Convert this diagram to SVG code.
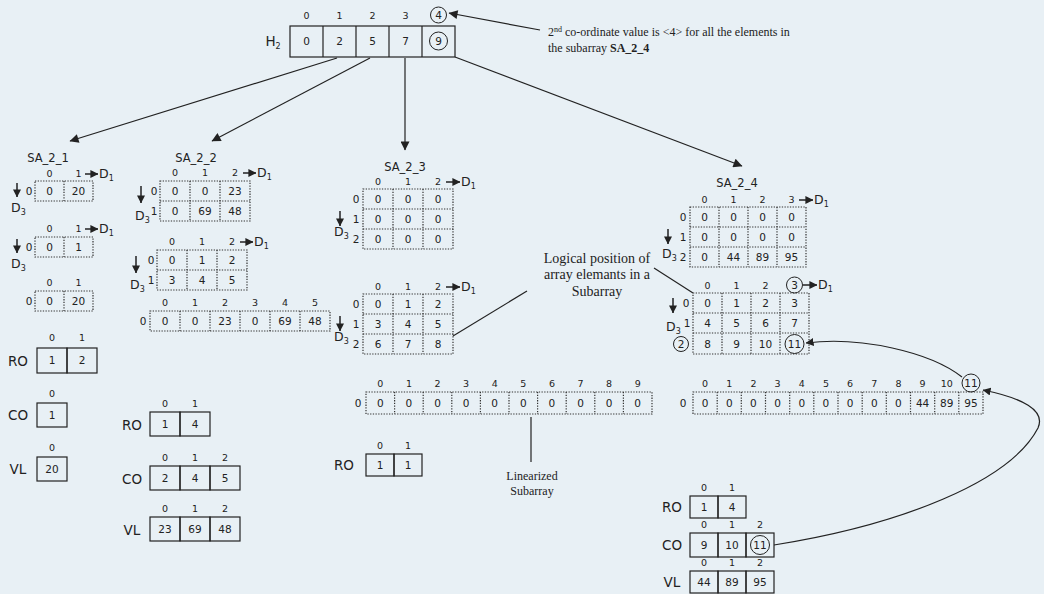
<svg xmlns="http://www.w3.org/2000/svg" width="1044" height="594" viewBox="0 0 1044 594">
<defs>
<marker id="a" viewBox="0 0 10 10" refX="9.5" refY="5" markerWidth="11" markerHeight="9" orient="auto" markerUnits="userSpaceOnUse"><path d="M0,0 L10,5 L0,10 z" fill="#222"/></marker>
<marker id="s" viewBox="0 0 10 10" refX="9.5" refY="5" markerWidth="8" markerHeight="8" orient="auto" markerUnits="userSpaceOnUse"><path d="M0,0 L10,5 L0,10 z" fill="#222"/></marker>
<style>
.v{font-family:"DejaVu Sans",sans-serif;font-size:10.5px;fill:#222;text-anchor:middle}
.i{font-family:"DejaVu Sans",sans-serif;font-size:9.5px;fill:#222;text-anchor:middle}
.lb{font-family:"DejaVu Sans",sans-serif;font-size:11.5px;fill:#222;text-anchor:middle}
.big{font-family:"DejaVu Sans",sans-serif;font-size:13.5px;fill:#222;text-anchor:middle}
.dl{font-family:"DejaVu Sans",sans-serif;font-size:12.5px;fill:#222}
.sub{font-size:8px}
.s{font-family:"Liberation Serif",serif;font-size:12px;fill:#222}
.sl{font-family:"Liberation Serif",serif;font-size:14px;fill:#222;text-anchor:middle}
.d{fill:none;stroke:#333;stroke-width:1.2;stroke-dasharray:1.3 1.4}
.b{fill:none;stroke:#222;stroke-width:1.2}
.c{fill:none;stroke:#222;stroke-width:1}
.ln{stroke:#222;stroke-width:1.2;fill:none}
.sa{stroke:#222;stroke-width:1.5;fill:none}
</style>
</defs>
<rect width="1044" height="594" fill="#e8f0f5"/>

<g id="H2">
<text class="i" x="306.5" y="19">0</text><text class="i" x="339.5" y="19">1</text><text class="i" x="372.5" y="19">2</text><text class="i" x="405.5" y="19">3</text><text class="v" x="438.5" y="19">4</text>
<circle class="c" cx="438.5" cy="15" r="8"/>
<text class="big" x="273" y="46">H<tspan class="sub" dy="3">2</tspan></text>
<rect class="b" x="290" y="26" width="165" height="31"/>
<line class="ln" x1="323" y1="26" x2="323" y2="57"/><line class="ln" x1="356" y1="26" x2="356" y2="57"/><line class="ln" x1="389" y1="26" x2="389" y2="57"/><line class="ln" x1="422" y1="26" x2="422" y2="57"/>
<text class="v" x="306.5" y="45">0</text><text class="v" x="339.5" y="45">2</text><text class="v" x="372.5" y="45">5</text><text class="v" x="405.5" y="45">7</text><text class="v" x="438.5" y="45">9</text>
<circle class="c" cx="438.5" cy="41" r="9"/>
</g>

<g id="note">
<text class="s" x="548" y="36">2<tspan font-size="8" dy="-4">nd</tspan><tspan dy="4"> co-ordinate value is &lt;4&gt; for all the elements in</tspan></text>
<text class="s" x="548" y="52">the subarray <tspan font-weight="bold">SA_2_4</tspan></text>
</g>

<g id="connectors">
<line class="ln" x1="540" y1="30" x2="449" y2="13" marker-end="url(#a)"/>
<line class="ln" x1="337" y1="58" x2="70" y2="141" marker-end="url(#a)"/>
<line class="ln" x1="370" y1="58" x2="212" y2="141" marker-end="url(#a)"/>
<line class="ln" x1="405" y1="58" x2="405" y2="150" marker-end="url(#a)"/>
<line class="ln" x1="455" y1="57" x2="742" y2="166" marker-end="url(#a)"/>
<line class="ln" x1="527" y1="291" x2="453" y2="336"/>
<line class="ln" x1="654" y1="268" x2="693" y2="293"/>
<line class="ln" x1="531" y1="417" x2="531" y2="462"/>
<path class="ln" d="M962,377 C930,352 860,336 806,343" marker-end="url(#s)"/>
<path class="ln" d="M774,545 C900,525 1010,482 1038,428 C1046,410 1022,398 983,390" marker-end="url(#s)"/>
</g>

<g id="SA_2_1">
<text class="lb" x="48" y="162">SA_2_1</text>
<text class="i" x="49.5" y="177">0</text><text class="i" x="78.5" y="177">1</text>
<line class="sa" x1="85" y1="174" x2="98" y2="174" marker-end="url(#s)"/><text class="dl" x="99" y="178">D<tspan class="sub" dy="3">1</tspan></text>
<rect class="d" x="35" y="181" width="58" height="20"/><line class="d" x1="64" y1="181" x2="64" y2="201"/>
<text class="v" x="49.5" y="195">0</text><text class="v" x="78.5" y="195">20</text>
<text class="v" x="29" y="195">0</text>
<line class="sa" x1="17" y1="183" x2="17" y2="197" marker-end="url(#s)"/><text class="dl" x="11" y="212">D<tspan class="sub" dy="3">3</tspan></text>

<text class="i" x="49.5" y="232">0</text><text class="i" x="78.5" y="232">1</text>
<line class="sa" x1="85" y1="229" x2="98" y2="229" marker-end="url(#s)"/><text class="dl" x="99" y="233">D<tspan class="sub" dy="3">1</tspan></text>
<rect class="d" x="35" y="237" width="58" height="20"/><line class="d" x1="64" y1="237" x2="64" y2="257"/>
<text class="v" x="49.5" y="251">0</text><text class="v" x="78.5" y="251">1</text>
<text class="v" x="29" y="251">0</text>
<line class="sa" x1="17" y1="239" x2="17" y2="253" marker-end="url(#s)"/><text class="dl" x="11" y="268">D<tspan class="sub" dy="3">3</tspan></text>

<text class="i" x="49.5" y="286">0</text><text class="i" x="78.5" y="286">1</text>
<rect class="d" x="35" y="291" width="58" height="20"/><line class="d" x1="64" y1="291" x2="64" y2="311"/>
<text class="v" x="49.5" y="305">0</text><text class="v" x="78.5" y="305">20</text>
<text class="v" x="29" y="305">0</text>

<text class="i" x="52" y="341">0</text><text class="i" x="82" y="341">1</text>
<rect class="b" x="37" y="348" width="30" height="25"/><rect class="b" x="67" y="348" width="30" height="25"/>
<text class="v" x="52" y="364">1</text><text class="v" x="82" y="364">2</text>
<text class="big" x="18" y="366">RO</text>
<text class="i" x="52" y="397">0</text>
<rect class="b" x="37" y="403" width="30" height="24"/><text class="v" x="52" y="419">1</text>
<text class="big" x="18" y="420">CO</text>
<text class="i" x="52" y="451">0</text>
<rect class="b" x="37" y="457" width="30" height="24"/><text class="v" x="52" y="473">20</text>
<text class="big" x="18" y="474">VL</text>
</g>

<g id="SA_2_2">
<text class="lb" x="196" y="162">SA_2_2</text>
<text class="i" x="175" y="176">0</text><text class="i" x="205" y="176">1</text><text class="i" x="235" y="176">2</text>
<line class="sa" x1="243" y1="173" x2="256" y2="173" marker-end="url(#s)"/><text class="dl" x="257" y="177">D<tspan class="sub" dy="3">1</tspan></text>
<rect class="d" x="160" y="181" width="90" height="40"/><line class="d" x1="190" y1="181" x2="190" y2="221"/><line class="d" x1="220" y1="181" x2="220" y2="221"/><line class="d" x1="160" y1="201" x2="250" y2="201"/>
<text class="v" x="175" y="195">0</text><text class="v" x="205" y="195">0</text><text class="v" x="235" y="195">23</text>
<text class="v" x="175" y="215">0</text><text class="v" x="205" y="215">69</text><text class="v" x="235" y="215">48</text>
<text class="v" x="154" y="195">0</text><text class="v" x="154" y="215">1</text>
<line class="sa" x1="141" y1="186" x2="141" y2="203" marker-end="url(#s)"/><text class="dl" x="135" y="220">D<tspan class="sub" dy="3">3</tspan></text>

<text class="i" x="172" y="245">0</text><text class="i" x="202" y="245">1</text><text class="i" x="232" y="245">2</text>
<line class="sa" x1="240" y1="242" x2="253" y2="242" marker-end="url(#s)"/><text class="dl" x="254" y="246">D<tspan class="sub" dy="3">1</tspan></text>
<rect class="d" x="157" y="250" width="90" height="40"/><line class="d" x1="187" y1="250" x2="187" y2="290"/><line class="d" x1="217" y1="250" x2="217" y2="290"/><line class="d" x1="157" y1="270" x2="247" y2="270"/>
<text class="v" x="172" y="264">0</text><text class="v" x="202" y="264">1</text><text class="v" x="232" y="264">2</text>
<text class="v" x="172" y="284">3</text><text class="v" x="202" y="284">4</text><text class="v" x="232" y="284">5</text>
<text class="v" x="151" y="264">0</text><text class="v" x="151" y="284">1</text>
<line class="sa" x1="136" y1="256" x2="136" y2="273" marker-end="url(#s)"/><text class="dl" x="130" y="289">D<tspan class="sub" dy="3">3</tspan></text>

<text class="i" x="165" y="306">0</text><text class="i" x="195" y="306">1</text><text class="i" x="225" y="306">2</text><text class="i" x="255" y="306">3</text><text class="i" x="285" y="306">4</text><text class="i" x="315" y="306">5</text>
<rect class="d" x="150" y="311" width="180" height="20"/>
<line class="d" x1="180" y1="311" x2="180" y2="331"/><line class="d" x1="210" y1="311" x2="210" y2="331"/><line class="d" x1="240" y1="311" x2="240" y2="331"/><line class="d" x1="270" y1="311" x2="270" y2="331"/><line class="d" x1="300" y1="311" x2="300" y2="331"/>
<text class="v" x="165" y="325">0</text><text class="v" x="195" y="325">0</text><text class="v" x="225" y="325">23</text><text class="v" x="255" y="325">0</text><text class="v" x="285" y="325">69</text><text class="v" x="315" y="325">48</text>
<text class="v" x="143" y="325">0</text>

<text class="i" x="165" y="407">0</text><text class="i" x="195" y="407">1</text>
<rect class="b" x="150" y="412" width="30" height="24"/><rect class="b" x="180" y="412" width="30" height="24"/>
<text class="v" x="165" y="428">1</text><text class="v" x="195" y="428">4</text>
<text class="big" x="132" y="430">RO</text>
<text class="i" x="165" y="461">0</text><text class="i" x="195" y="461">1</text><text class="i" x="225" y="461">2</text>
<rect class="b" x="150" y="466" width="30" height="24"/><rect class="b" x="180" y="466" width="30" height="24"/><rect class="b" x="210" y="466" width="30" height="24"/>
<text class="v" x="165" y="482">2</text><text class="v" x="195" y="482">4</text><text class="v" x="225" y="482">5</text>
<text class="big" x="132" y="484">CO</text>
<text class="i" x="165" y="512">0</text><text class="i" x="195" y="512">1</text><text class="i" x="225" y="512">2</text>
<rect class="b" x="150" y="517" width="30" height="24"/><rect class="b" x="180" y="517" width="30" height="24"/><rect class="b" x="210" y="517" width="30" height="24"/>
<text class="v" x="165" y="533">23</text><text class="v" x="195" y="533">69</text><text class="v" x="225" y="533">48</text>
<text class="big" x="132" y="535">VL</text>
</g>

<g id="SA_2_3">
<text class="lb" x="405" y="171">SA_2_3</text>
<text class="i" x="378" y="185">0</text><text class="i" x="408" y="185">1</text><text class="i" x="438" y="185">2</text>
<line class="sa" x1="446" y1="182" x2="460" y2="182" marker-end="url(#s)"/><text class="dl" x="461" y="186">D<tspan class="sub" dy="3">1</tspan></text>
<rect class="d" x="363" y="189" width="90" height="60"/><line class="d" x1="393" y1="189" x2="393" y2="249"/><line class="d" x1="423" y1="189" x2="423" y2="249"/><line class="d" x1="363" y1="209" x2="453" y2="209"/><line class="d" x1="363" y1="229" x2="453" y2="229"/>
<text class="v" x="378" y="203">0</text><text class="v" x="408" y="203">0</text><text class="v" x="438" y="203">0</text>
<text class="v" x="378" y="223">0</text><text class="v" x="408" y="223">0</text><text class="v" x="438" y="223">0</text>
<text class="v" x="378" y="243">0</text><text class="v" x="408" y="243">0</text><text class="v" x="438" y="243">0</text>
<text class="v" x="356" y="203">0</text><text class="v" x="356" y="223">1</text><text class="v" x="356" y="243">2</text>
<line class="sa" x1="340" y1="211" x2="340" y2="226" marker-end="url(#s)"/><text class="dl" x="334" y="236">D<tspan class="sub" dy="3">3</tspan></text>

<text class="i" x="378" y="290">0</text><text class="i" x="408" y="290">1</text><text class="i" x="438" y="290">2</text>
<line class="sa" x1="446" y1="287" x2="460" y2="287" marker-end="url(#s)"/><text class="dl" x="461" y="291">D<tspan class="sub" dy="3">1</tspan></text>
<rect class="d" x="363" y="294" width="90" height="60"/><line class="d" x1="393" y1="294" x2="393" y2="354"/><line class="d" x1="423" y1="294" x2="423" y2="354"/><line class="d" x1="363" y1="314" x2="453" y2="314"/><line class="d" x1="363" y1="334" x2="453" y2="334"/>
<text class="v" x="378" y="308">0</text><text class="v" x="408" y="308">1</text><text class="v" x="438" y="308">2</text>
<text class="v" x="378" y="328">3</text><text class="v" x="408" y="328">4</text><text class="v" x="438" y="328">5</text>
<text class="v" x="378" y="348">6</text><text class="v" x="408" y="348">7</text><text class="v" x="438" y="348">8</text>
<text class="v" x="356" y="308">0</text><text class="v" x="356" y="328">1</text><text class="v" x="356" y="348">2</text>
<line class="sa" x1="340" y1="316" x2="340" y2="331" marker-end="url(#s)"/><text class="dl" x="334" y="341">D<tspan class="sub" dy="3">3</tspan></text>

<text class="i" x="380.3" y="387">0</text><text class="i" x="408.9" y="387">1</text><text class="i" x="437.5" y="387">2</text><text class="i" x="466.1" y="387">3</text><text class="i" x="494.7" y="387">4</text><text class="i" x="523.3" y="387">5</text><text class="i" x="551.9" y="387">6</text><text class="i" x="580.5" y="387">7</text><text class="i" x="609.1" y="387">8</text><text class="i" x="637.7" y="387">9</text>
<rect class="d" x="366" y="392" width="286" height="22"/>
<line class="d" x1="394.6" y1="392" x2="394.6" y2="414"/><line class="d" x1="423.2" y1="392" x2="423.2" y2="414"/><line class="d" x1="451.8" y1="392" x2="451.8" y2="414"/><line class="d" x1="480.4" y1="392" x2="480.4" y2="414"/><line class="d" x1="509" y1="392" x2="509" y2="414"/><line class="d" x1="537.6" y1="392" x2="537.6" y2="414"/><line class="d" x1="566.2" y1="392" x2="566.2" y2="414"/><line class="d" x1="594.8" y1="392" x2="594.8" y2="414"/><line class="d" x1="623.4" y1="392" x2="623.4" y2="414"/>
<text class="v" x="380.3" y="407">0</text><text class="v" x="408.9" y="407">0</text><text class="v" x="437.5" y="407">0</text><text class="v" x="466.1" y="407">0</text><text class="v" x="494.7" y="407">0</text><text class="v" x="523.3" y="407">0</text><text class="v" x="551.9" y="407">0</text><text class="v" x="580.5" y="407">0</text><text class="v" x="609.1" y="407">0</text><text class="v" x="637.7" y="407">0</text>
<text class="v" x="358" y="407">0</text>

<text class="i" x="380" y="449">0</text><text class="i" x="408" y="449">1</text>
<rect class="b" x="366" y="454" width="28" height="22"/><rect class="b" x="394" y="454" width="28" height="22"/>
<text class="v" x="380" y="469">1</text><text class="v" x="408" y="469">1</text>
<text class="big" x="344" y="470">RO</text>
</g>

<g id="labels">
<text class="s" x="532" y="480" text-anchor="middle">Linearized</text>
<text class="s" x="532" y="495" text-anchor="middle">Subarray</text>
<text class="sl" x="597" y="263">Logical position of</text>
<text class="sl" x="597" y="279">array elemants in a</text>
<text class="sl" x="597" y="296">Subarray</text>
</g>

<g id="SA_2_4">
<text class="lb" x="737" y="187">SA_2_4</text>
<text class="i" x="704.5" y="203">0</text><text class="i" x="733.5" y="203">1</text><text class="i" x="762.5" y="203">2</text><text class="i" x="791.5" y="203">3</text>
<line class="sa" x1="799" y1="200" x2="813" y2="200" marker-end="url(#s)"/><text class="dl" x="814" y="204">D<tspan class="sub" dy="3">1</tspan></text>
<rect class="d" x="690" y="207" width="116" height="60"/><line class="d" x1="719" y1="207" x2="719" y2="267"/><line class="d" x1="748" y1="207" x2="748" y2="267"/><line class="d" x1="777" y1="207" x2="777" y2="267"/><line class="d" x1="690" y1="227" x2="806" y2="227"/><line class="d" x1="690" y1="247" x2="806" y2="247"/>
<text class="v" x="704.5" y="221">0</text><text class="v" x="733.5" y="221">0</text><text class="v" x="762.5" y="221">0</text><text class="v" x="791.5" y="221">0</text>
<text class="v" x="704.5" y="241">0</text><text class="v" x="733.5" y="241">0</text><text class="v" x="762.5" y="241">0</text><text class="v" x="791.5" y="241">0</text>
<text class="v" x="704.5" y="261">0</text><text class="v" x="733.5" y="261">44</text><text class="v" x="762.5" y="261">89</text><text class="v" x="791.5" y="261">95</text>
<text class="v" x="683" y="221">0</text><text class="v" x="683" y="241">1</text><text class="v" x="683" y="261">2</text>
<line class="sa" x1="668" y1="229" x2="668" y2="244" marker-end="url(#s)"/><text class="dl" x="662" y="258">D<tspan class="sub" dy="3">3</tspan></text>

<text class="i" x="707.5" y="289">0</text><text class="i" x="736.5" y="289">1</text><text class="i" x="765.5" y="289">2</text><text class="v" x="794.5" y="289">3</text>
<circle class="c" cx="794.5" cy="285" r="8"/>
<line class="sa" x1="803" y1="285" x2="817" y2="285" marker-end="url(#s)"/><text class="dl" x="818" y="289">D<tspan class="sub" dy="3">1</tspan></text>
<rect class="d" x="693" y="293" width="116" height="61"/><line class="d" x1="722" y1="293" x2="722" y2="354"/><line class="d" x1="751" y1="293" x2="751" y2="354"/><line class="d" x1="780" y1="293" x2="780" y2="354"/><line class="d" x1="693" y1="313" x2="809" y2="313"/><line class="d" x1="693" y1="333" x2="809" y2="333"/>
<text class="v" x="707.5" y="307">0</text><text class="v" x="736.5" y="307">1</text><text class="v" x="765.5" y="307">2</text><text class="v" x="794.5" y="307">3</text>
<text class="v" x="707.5" y="327">4</text><text class="v" x="736.5" y="327">5</text><text class="v" x="765.5" y="327">6</text><text class="v" x="794.5" y="327">7</text>
<text class="v" x="707.5" y="348">8</text><text class="v" x="736.5" y="348">9</text><text class="v" x="765.5" y="348">10</text><text class="v" x="794.5" y="348">11</text>
<circle class="c" cx="794.5" cy="344" r="9.5"/>
<text class="v" x="686" y="307">0</text><text class="v" x="687" y="327">1</text>
<line class="sa" x1="673" y1="298" x2="673" y2="313" marker-end="url(#s)"/><text class="dl" x="666" y="331">D<tspan class="sub" dy="3">3</tspan></text>
<circle class="c" cx="681" cy="344" r="7.5"/><text class="v" x="681" y="348">2</text>

<text class="i" x="705.1" y="387">0</text><text class="i" x="729.3" y="387">1</text><text class="i" x="753.4" y="387">2</text><text class="i" x="777.6" y="387">3</text><text class="i" x="801.8" y="387">4</text><text class="i" x="825.9" y="387">5</text><text class="i" x="850.1" y="387">6</text><text class="i" x="874.3" y="387">7</text><text class="i" x="898.4" y="387">8</text><text class="i" x="922.6" y="387">9</text><text class="i" x="946.8" y="387">10</text><text class="v" x="970.9" y="387">11</text>
<circle class="c" cx="971" cy="383" r="9"/>
<rect class="d" x="693" y="392" width="290" height="22"/>
<line class="d" x1="717.2" y1="392" x2="717.2" y2="414"/><line class="d" x1="741.3" y1="392" x2="741.3" y2="414"/><line class="d" x1="765.5" y1="392" x2="765.5" y2="414"/><line class="d" x1="789.7" y1="392" x2="789.7" y2="414"/><line class="d" x1="813.8" y1="392" x2="813.8" y2="414"/><line class="d" x1="838" y1="392" x2="838" y2="414"/><line class="d" x1="862.2" y1="392" x2="862.2" y2="414"/><line class="d" x1="886.3" y1="392" x2="886.3" y2="414"/><line class="d" x1="910.5" y1="392" x2="910.5" y2="414"/><line class="d" x1="934.7" y1="392" x2="934.7" y2="414"/><line class="d" x1="958.8" y1="392" x2="958.8" y2="414"/>
<text class="v" x="705.1" y="407">0</text><text class="v" x="729.3" y="407">0</text><text class="v" x="753.4" y="407">0</text><text class="v" x="777.6" y="407">0</text><text class="v" x="801.8" y="407">0</text><text class="v" x="825.9" y="407">0</text><text class="v" x="850.1" y="407">0</text><text class="v" x="874.3" y="407">0</text><text class="v" x="898.4" y="407">0</text><text class="v" x="922.6" y="407">44</text><text class="v" x="946.8" y="407">89</text><text class="v" x="970.9" y="407">95</text>
<text class="v" x="683" y="407">0</text>

<text class="i" x="704" y="491">0</text><text class="i" x="732" y="491">1</text>
<rect class="b" x="690" y="496" width="28" height="22"/><rect class="b" x="718" y="496" width="28" height="22"/>
<text class="v" x="704" y="511">1</text><text class="v" x="732" y="511">4</text>
<text class="big" x="672" y="512">RO</text>
<text class="i" x="704" y="528">0</text><text class="i" x="732" y="528">1</text><text class="i" x="760" y="528">2</text>
<rect class="b" x="690" y="533" width="28" height="24"/><rect class="b" x="718" y="533" width="28" height="24"/><rect class="b" x="746" y="533" width="28" height="24"/>
<text class="v" x="704" y="549">9</text><text class="v" x="732" y="549">10</text><text class="v" x="760" y="549">11</text>
<circle class="c" cx="760" cy="545" r="9.5"/>
<text class="big" x="672" y="550">CO</text>
<text class="i" x="704" y="566">0</text><text class="i" x="732" y="566">1</text><text class="i" x="760" y="566">2</text>
<rect class="b" x="690" y="571" width="28" height="22"/><rect class="b" x="718" y="571" width="28" height="22"/><rect class="b" x="746" y="571" width="28" height="22"/>
<text class="v" x="704" y="586">44</text><text class="v" x="732" y="586">89</text><text class="v" x="760" y="586">95</text>
<text class="big" x="672" y="587">VL</text>
</g>
</svg>
